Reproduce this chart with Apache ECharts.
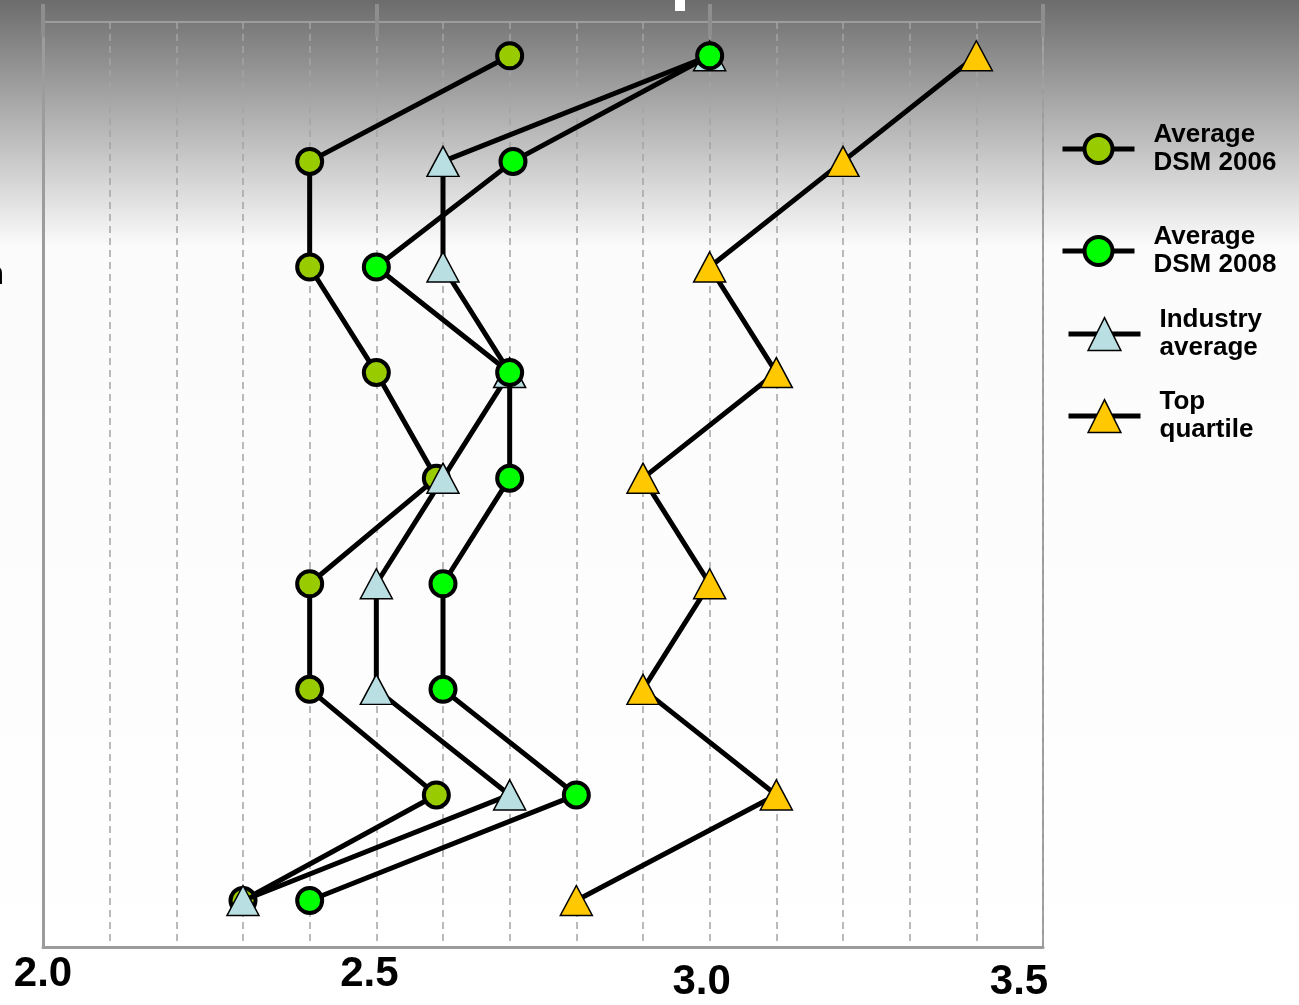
<!DOCTYPE html>
<html>
<head>
<meta charset="utf-8">
<script src="https://cdn.jsdelivr.net/npm/echarts@6/dist/echarts.min.js"></script>
<style>
  html, body { margin: 0; padding: 0; background: #fff; }
  #chart { width: 1299px; height: 1005px; }
</style>
</head>
<body>
<div id="chart"></div>
<script>
// ---- data ----
var rowIndex = [0, 1, 2, 3, 4, 5, 6, 7, 8];
var seriesNames = ['Average DSM 2006', 'Average DSM 2008', 'Industry average', 'Top quartile'];
var legendLabels = ['Average\nDSM 2006', 'Average\nDSM 2008', 'Industry\naverage', 'Top\nquartile'];
var dsm2006 = [2.7, 2.4, 2.4, 2.5, 2.59, 2.4, 2.4, 2.59, 2.3];
var dsm2008 = [3.0, 2.705, 2.5, 2.7, 2.7, 2.6, 2.6, 2.8, 2.4];
var industryAvg = [3.0, 2.6, 2.6, 2.7, 2.6, 2.5, 2.5, 2.7, 2.3];
var topQuartile = [3.4, 3.2, 3.0, 3.1, 2.9, 3.0, 2.9, 3.1, 2.8];
var tickLabels = ['2.0', '2.5', '3.0', '3.5'];

function pts(vals) { return vals.map(function (v, i) { return [v, rowIndex[i]]; }); }

var chart = echarts.init(document.getElementById('chart'), null, { renderer: 'canvas' });

var gridDash = { color: '#a4a4a4', type: [7, 5], width: 1.5 };
var font = 'Liberation Sans, Arial, sans-serif';

function lineSeries(name, vals, symbol, size, fill, bw, z) {
  return {
    name: name, type: 'line', data: pts(vals), xAxisIndex: 0, yAxisIndex: 0,
    symbol: symbol, symbolSize: size, showSymbol: true, z: z,
    lineStyle: { color: '#000', width: 5 },
    itemStyle: { color: fill, borderColor: '#000', borderWidth: bw, opacity: 1 },
    emphasis: { disabled: true }, animation: false
  };
}

function legendItem(idx, left, top, iconH, bw) {
  return {
    data: [seriesNames[idx]], left: left, top: top, orient: 'vertical', padding: 0,
    itemWidth: 72, itemHeight: iconH, selectedMode: false,
    lineStyle: { color: '#000', width: 5 },
    itemStyle: { borderColor: '#000', borderWidth: bw },
    formatter: function () { return legendLabels[idx]; },
    textStyle: { fontFamily: font, fontWeight: 'bold', fontSize: 26, lineHeight: 28, color: '#000', padding: [0, 0, 0, 14] }
  };
}

var option = {
  animation: false,
  backgroundColor: {
    type: 'linear', x: 0, y: 0, x2: 0, y2: 1,
    colorStops: [{ offset: 0, color: '#6c6c6c' }, { offset: 0.245, color: '#fbfbfb' }, { offset: 1, color: '#ffffff' }]
  },
  grid: { left: 43, right: 256, top: 22, bottom: 58, containLabel: false, show: true, borderColor: '#9c9c9c', borderWidth: 2, backgroundColor: 'transparent' },
  xAxis: [
    {
      type: 'value', position: 'bottom', min: 2, max: 3.5, interval: 0.5,
      axisLine: { show: true, onZero: false, lineStyle: { color: '#9c9c9c', width: 3 } },
      axisTick: { show: false },
      minorTick: { show: false, splitNumber: 5 },
      splitLine: { show: true, lineStyle: gridDash },
      minorSplitLine: { show: true, lineStyle: gridDash },
      axisLabel: {
        show: true, margin: 6, showMinLabel: true, showMaxLabel: true,
        formatter: function (v) {
          var i = Math.round((v - 2) / 0.5);
          return '{l' + i + '|' + tickLabels[i] + '}';
        },
        rich: {
          l0: { fontFamily: font, fontWeight: 'bold', fontSize: 42, color: '#000', padding: [0, 0, 0, 0] },
          l1: { fontFamily: font, fontWeight: 'bold', fontSize: 42, color: '#000', padding: [0, 14, 0, 0] },
          l2: { fontFamily: font, fontWeight: 'bold', fontSize: 42, color: '#000', padding: [8, 16, 0, 0] },
          l3: { fontFamily: font, fontWeight: 'bold', fontSize: 42, color: '#000', padding: [8, 48, 0, 0] }
        }
      }
    },
    {
      type: 'value', position: 'top', offset: -15, min: 2, max: 3.5, interval: 0.5,
      axisLine: { show: false, onZero: false },
      axisTick: { show: true, inside: false, length: 33, lineStyle: { color: '#8e8e8e', width: 4 } },
      axisLabel: { show: false }, splitLine: { show: false }
    }
  ],
  yAxis: [
    {
      type: 'value', inverse: true, min: -0.32, max: 8.44, position: 'left',
      axisLine: { show: true, onZero: false, lineStyle: { color: '#9c9c9c', width: 3 } },
      axisTick: { show: false }, axisLabel: { show: false }, splitLine: { show: false }
    }
  ],
  legend: [
    legendItem(0, 1060, 121, 35, 4),
    legendItem(1, 1060, 223, 35, 4),
    legendItem(2, 1066, 306, 41, 1.5),
    legendItem(3, 1066, 388, 41, 1.5)
  ],
  series: [
    lineSeries(seriesNames[0], dsm2006, 'circle', 25, '#99cc00', 4, 2),
    lineSeries(seriesNames[2], industryAvg, 'triangle', [32, 30], '#b9dfe2', 1.5, 3),
    lineSeries(seriesNames[1], dsm2008, 'circle', 25, '#00ff00', 4, 4),
    lineSeries(seriesNames[3], topQuartile, 'triangle', [32, 30], '#ffc800', 1.5, 5)
  ],
  graphic: [
    { type: 'rect', shape: { x: 675, y: 0, width: 10, height: 11 }, style: { fill: '#ffffff' }, z: 100 },
    { type: 'text', x: 4, y: 291, style: { text: 'n', fontFamily: font, fontSize: 32, fill: '#000', align: 'right', verticalAlign: 'bottom' }, z: 100 }
  ]
};

chart.setOption(option);
</script>
</body>
</html>
